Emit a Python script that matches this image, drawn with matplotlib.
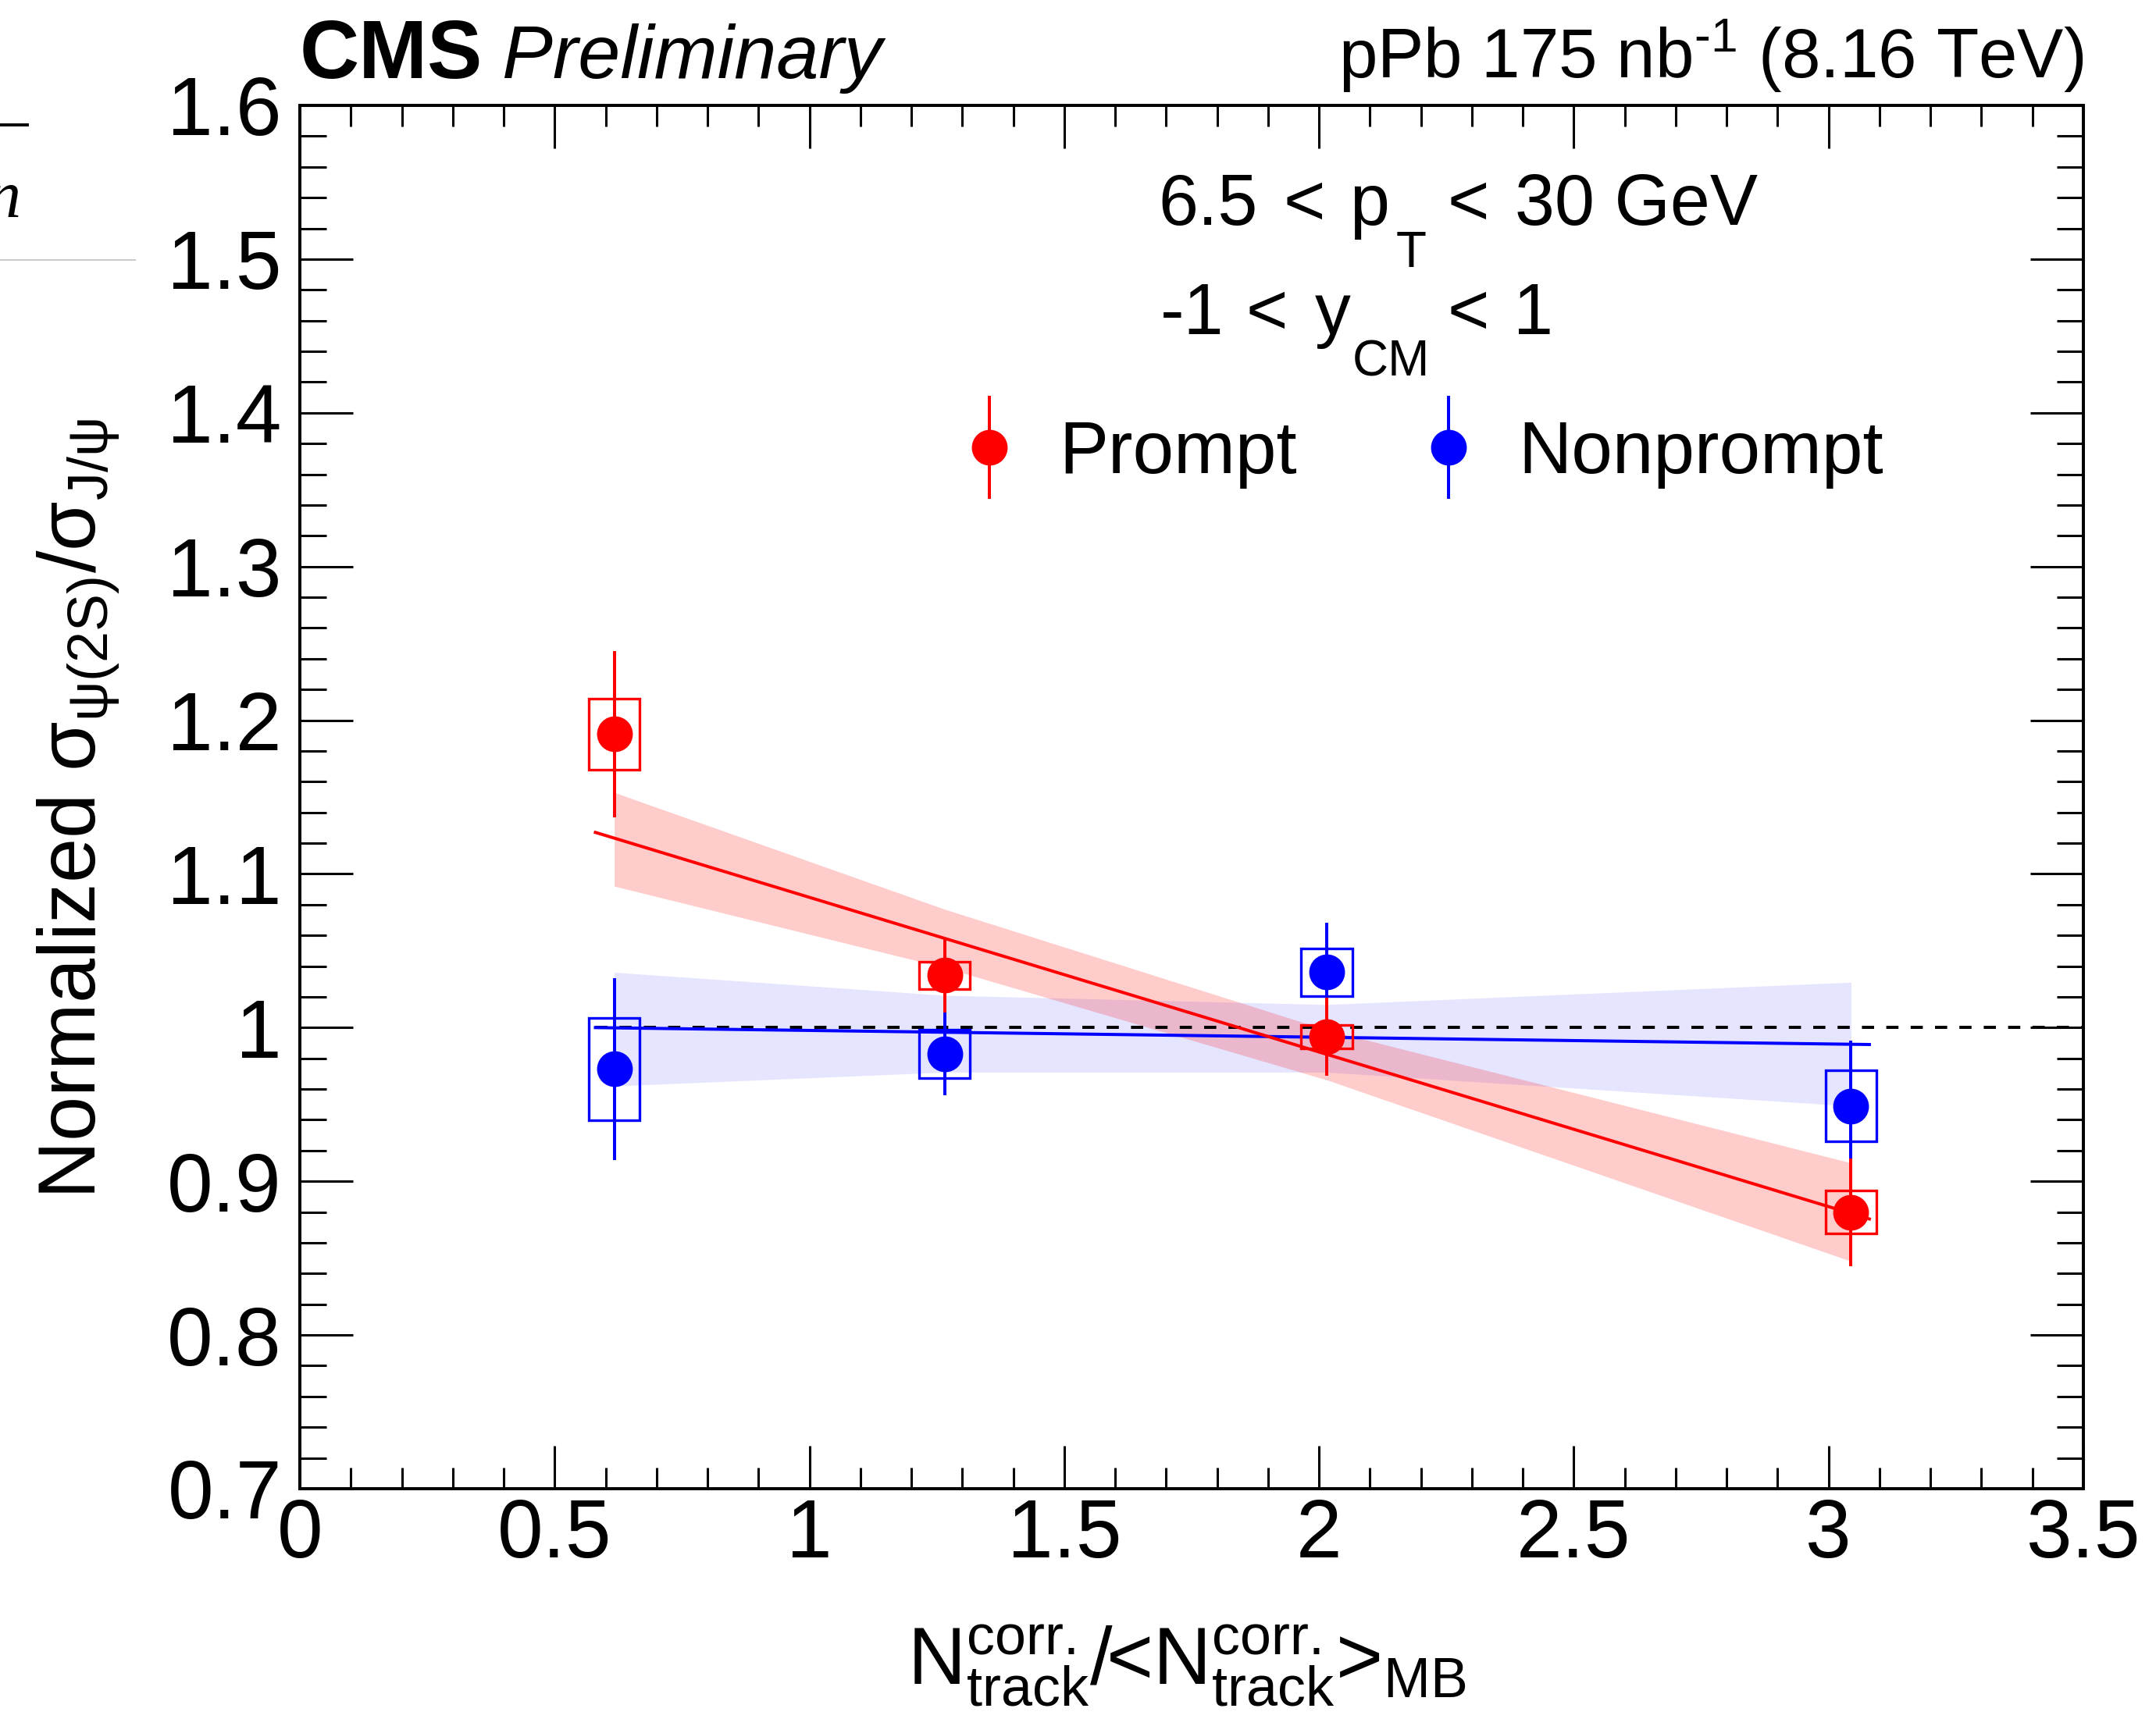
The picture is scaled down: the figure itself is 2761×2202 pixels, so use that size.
import matplotlib
matplotlib.use('Agg')
import matplotlib.pyplot as plt
from matplotlib.lines import Line2D
from matplotlib.container import ErrorbarContainer
from matplotlib.legend_handler import HandlerErrorbar
from matplotlib.ticker import MultipleLocator

plt.rcParams['font.family'] = ['Liberation Sans', 'DejaVu Sans']
plt.rcParams['mathtext.fontset'] = 'custom'
plt.rcParams['mathtext.rm'] = 'Liberation Sans'
plt.rcParams['mathtext.it'] = 'Liberation Sans:italic'
plt.rcParams['mathtext.bf'] = 'Liberation Sans:bold'

# multiplicity bins, N_track / <N_track>_MB
ntrk = [0.617, 1.2655, 2.015, 3.044]

# double ratio psi(2S)/J/psi, prompt and nonprompt
prompt = [1.191, 1.034, 0.994, 0.880]
prompt_stat = [0.054, 0.024, 0.0255, 0.035]
prompt_syst = [0.023, 0.009, 0.0076, 0.014]

nonprompt = [0.973, 0.983, 1.036, 0.949]
nonprompt_stat = [0.059, 0.027, 0.032, 0.0425]
nonprompt_syst = [0.0335, 0.0157, 0.0157, 0.0232]

# linear fits (end points) and their error bands at each bin
fit_range = [0.58, 3.08]
prompt_fit = [1.127, 0.8755]
nonprompt_fit = [1.000, 0.989]
prompt_band_hi = [1.153, 1.077, 0.9985, 0.912]
prompt_band_lo = [1.092, 1.039, 0.966, 0.848]
nonprompt_band_hi = [1.036, 1.021, 1.015, 1.0295]
nonprompt_band_lo = [0.962, 0.971, 0.971, 0.949]

xticks = [0, 0.5, 1, 1.5, 2, 2.5, 3, 3.5]
xticklabels = ['0', '0.5', '1', '1.5', '2', '2.5', '3', '3.5']
yticks = [0.7, 0.8, 0.9, 1.0, 1.1, 1.2, 1.3, 1.4, 1.5, 1.6]
yticklabels = ['0.7', '0.8', '0.9', '1', '1.1', '1.2', '1.3', '1.4', '1.5', '1.6']

W, H = 2761, 2202
fig = plt.figure(figsize=(W / 200, H / 200), dpi=200)
ax = fig.add_axes([384 / W, 1 - 1907 / H, 2284 / W, 1772 / H])


def px(x, y):
    return x / W, 1 - y / H


# bands
ax.fill_between(ntrk, nonprompt_band_lo, nonprompt_band_hi, color=(0, 0, 1),
                alpha=0.1, lw=0, zorder=1)
ax.fill_between(ntrk, prompt_band_lo, prompt_band_hi, color=(1, 0, 0),
                alpha=0.2, lw=0, zorder=2)

ax.hlines(1.0, fit_range[0], 3.5, colors='black', lw=1.44,
          linestyles=(0, (3.9, 3.9)), zorder=3)

ax.plot(fit_range, nonprompt_fit, color='blue', lw=1.44, zorder=4)
ax.plot(fit_range, prompt_fit, color='red', lw=1.44, zorder=5)

# systematic boxes
ax.bar(ntrk, [2 * s for s in nonprompt_syst],
       bottom=[y - s for y, s in zip(nonprompt, nonprompt_syst)],
       width=0.1, fill=False, edgecolor='blue', lw=1.2, zorder=6)
ax.bar(ntrk, [2 * s for s in prompt_syst],
       bottom=[y - s for y, s in zip(prompt, prompt_syst)],
       width=0.1, fill=False, edgecolor='red', lw=1.2, zorder=6)

h_np = ax.errorbar(ntrk, nonprompt, yerr=nonprompt_stat, fmt='o', color='blue',
                   ms=15.5, elinewidth=1.44, capsize=0, zorder=7, label='Nonprompt')
h_p = ax.errorbar(ntrk, prompt, yerr=prompt_stat, fmt='o', color='red',
                  ms=15.5, elinewidth=1.44, capsize=0, zorder=8, label='Prompt')

ax.legend(handles=[h_p, h_np], ncol=2, frameon=False, fontsize=34,
          loc='center left', bbox_to_anchor=(0.370, 0.748),
          borderpad=0, borderaxespad=0, handlelength=0.8,
          handletextpad=0.55, columnspacing=1.65,
          handler_map={ErrorbarContainer: HandlerErrorbar(yerr_size=0.7)})

ax.set_xlim(0, 3.5)
ax.set_ylim(0.7, 1.6)
ax.set_xticks(xticks, labels=xticklabels)
ax.set_yticks(yticks, labels=yticklabels)
ax.xaxis.set_minor_locator(MultipleLocator(0.1))
ax.yaxis.set_minor_locator(MultipleLocator(0.02))
ax.tick_params(which='both', direction='in', top=True, right=True,
               width=1.1, labelsize=38)
ax.tick_params(axis='x', which='major', length=19.8, pad=4)
ax.tick_params(axis='x', which='minor', length=9.7)
ax.tick_params(axis='y', which='major', length=24.5, pad=8.3)
ax.tick_params(axis='y', which='minor', length=12.2)
for sp in ax.spines.values():
    sp.set_linewidth(1.44)

# axis titles
fig.text(*px(1520, 2158),
         r'N$^{\mathregular{corr.}}_{\mathregular{track}}$/<N$^{\mathregular{corr.}}_{\mathregular{track}}$>$_{\mathregular{MB}}$',
         fontsize=37, ha='center', va='baseline')
fig.text(*px(123, 1536),
         r'Normalized σ$_{\mathregular{ψ(2S)}}$/σ$_{\mathregular{J/ψ}}$',
         fontsize=37, rotation=90, rotation_mode='anchor',
         ha='left', va='baseline')

# header
fig.text(*px(384, 100), 'CMS', fontsize=38, fontweight='bold', va='baseline')
fig.text(*px(643, 100), 'Preliminary', fontsize=35, style='italic', va='baseline')
fig.text(*px(2668, 100), r'pPb 175 nb$^{\text{-1}}$ (8.16 TeV)',
         fontsize=32, ha='right', va='baseline')

# kinematic range
for s, x, y, fs in [('6.5', 1483, 288, 33), ('<', 1643, 288, 33), ('p', 1728, 288, 33),
                    ('T', 1788, 342, 23), ('<', 1853, 288, 33), ('30 GeV', 1940, 288, 33),
                    ('-1', 1486, 428, 33), ('<', 1595, 428, 33), ('y', 1684, 428, 33),
                    ('CM', 1732, 482, 23), ('<', 1854, 428, 33), ('1', 1938, 428, 33)]:
    fig.text(*px(x, y), s, fontsize=fs, va='baseline')

# stray page bits on the left edge
fig.add_artist(Line2D([0, 35 / W], [1 - 160 / H] * 2, color='black', lw=1.4))
fig.add_artist(Line2D([0, 173 / W], [1 - 333 / H] * 2, color='#c8c8c8', lw=0.7))
fig.text(*px(-16, 278), 'n', fontsize=31, family='Liberation Serif',
         style='italic', va='baseline')

fig.savefig('out.png', dpi=200)
